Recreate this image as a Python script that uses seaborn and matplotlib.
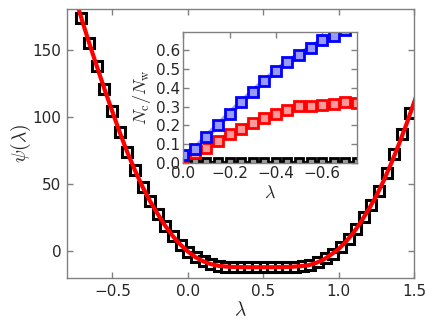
import matplotlib
matplotlib.use("Agg")
import matplotlib.pyplot as plt
import seaborn as sns

# ---- main panel data ----
lam = [-0.705, -0.654, -0.604, -0.553, -0.502, -0.452, -0.401, -0.351, -0.300, -0.250,
       -0.199, -0.149, -0.098, -0.047, 0.003, 0.054, 0.104, 0.155, 0.205, 0.256,
       0.306, 0.357, 0.408, 0.458, 0.509, 0.559, 0.610, 0.660, 0.711, 0.761,
       0.812, 0.863, 0.913, 0.964, 1.014, 1.065, 1.115, 1.166, 1.216, 1.267,
       1.318, 1.368, 1.419, 1.469]
psi = [173.3, 155.0, 138.0, 120.8, 104.4, 88.6, 73.6, 60.3, 47.8, 37.1,
       27.5, 18.7, 10.9, 4.6, -0.6, -4.7, -7.6, -9.7, -11.0, -11.5,
       -11.8, -11.9, -12.0, -12.0, -12.0, -12.0, -11.9, -11.8, -11.6, -11.1,
       -10.2, -8.3, -5.5, -1.8, 3.1, 9.3, 16.5, 25.2, 34.4, 44.9,
       58.0, 72.0, 87.0, 103.0]

lam_fit = [-0.75, -0.70, -0.65, -0.60, -0.55, -0.50, -0.45, -0.40, -0.35, -0.30,
           -0.25, -0.20, -0.15, -0.10, -0.05, 0.00, 0.05, 0.10, 0.15, 0.20,
           0.25, 0.30, 0.35, 0.40, 0.45, 0.50, 0.55, 0.60, 0.65, 0.70,
           0.75, 0.80, 0.85, 0.90, 0.95, 1.00, 1.05, 1.10, 1.15, 1.20,
           1.25, 1.30, 1.35, 1.40, 1.45, 1.50, 1.55]
psi_fit = [190.0, 171.5, 153.6, 136.6, 119.8, 103.8, 88.0, 73.3, 60.0, 47.8,
           37.1, 27.7, 18.9, 11.2, 4.9, -0.3, -4.5, -7.5, -9.6, -10.9,
           -11.5, -11.8, -11.9, -12.0, -12.0, -12.0, -12.0, -11.9, -11.8, -11.6,
           -11.2, -10.5, -8.8, -6.3, -2.5, 1.6, 7.3, 14.1, 22.3, 31.4,
           41.4, 53.0, 66.0, 80.0, 95.0, 111.0, 127.0]

# ---- inset data ----
lam_in = [0.00, -0.05, -0.10, -0.15, -0.20, -0.25, -0.30, -0.35,
          -0.40, -0.45, -0.50, -0.55, -0.60, -0.65, -0.70, -0.75]
frac_blue = [0.040, 0.072, 0.140, 0.200, 0.263, 0.323, 0.380, 0.437,
             0.490, 0.540, 0.577, 0.615, 0.654, 0.677, 0.710, 0.735]
frac_red = [0.030, 0.050, 0.080, 0.117, 0.152, 0.183, 0.215, 0.242,
            0.260, 0.281, 0.301, 0.301, 0.308, 0.314, 0.326, 0.319]
frac_black = [0.004, 0.004, 0.004, 0.004, 0.004, 0.004, 0.004, 0.004,
              0.004, 0.004, 0.004, 0.004, 0.004, 0.004, 0.004, 0.004]

sns.set_style("ticks")
plt.rcParams["font.family"] = ["DejaVu Sans"]
plt.rcParams["mathtext.fontset"] = "cm"
plt.rcParams["xtick.direction"] = "in"
plt.rcParams["ytick.direction"] = "in"

SPINE = "#808080"

fig = plt.figure(figsize=(4.36, 3.27), dpi=100)
ax = fig.add_axes([0.154, 0.150, 0.796, 0.821])

sns.lineplot(x=lam, y=psi, ax=ax, color="black", lw=0, marker="s", ms=7.5,
             mfc="white", mec="black", mew=2.2, estimator=None, sort=False)
sns.lineplot(x=lam_fit, y=psi_fit, ax=ax, color="red", lw=3, estimator=None)

ax.set_xlim(-0.8, 1.5)
ax.set_ylim(-20, 180)
ax.set_xticks([-0.5, 0.0, 0.5, 1.0, 1.5])
ax.set_yticks([0, 50, 100, 150])
ax.set_xlabel(r"$\lambda$", fontsize=14, labelpad=1)
ax.set_ylabel(r"$\psi(\lambda)$", fontsize=14, labelpad=0)

def style(a, fs):
    for s in a.spines.values():
        s.set_color(SPINE)
        s.set_linewidth(1.0)
    a.tick_params(which="both", direction="in", top=True, right=True,
                  color=SPINE, length=4, width=1, labelsize=fs, pad=4)

style(ax, 11)

# ---- inset ----
axi = fig.add_axes([0.420, 0.502, 0.399, 0.401])
sns.lineplot(x=lam_in, y=frac_black, ax=axi, color="black", lw=2, marker="s", ms=6,
             mfc="#999999", mec="black", mew=2, estimator=None, sort=False)
sns.lineplot(x=lam_in, y=frac_red, ax=axi, color=(1.0, 0.6, 0.6), lw=4, marker="s", ms=7,
             mfc=(1.0, 0.6, 0.6), mec="red", mew=2, estimator=None, sort=False)
sns.lineplot(x=lam_in, y=frac_blue, ax=axi, color=(0.6, 0.6, 1.0), lw=4, marker="s", ms=7,
             mfc=(0.6, 0.6, 1.0), mec="blue", mew=2, estimator=None, sort=False)

axi.set_xlim(0.0, -0.75)
axi.set_ylim(0.0, 0.7)
axi.set_xticks([0.0, -0.2, -0.4, -0.6])
axi.set_yticks([0.0, 0.1, 0.2, 0.3, 0.4, 0.5, 0.6])
axi.set_xlabel(r"$\lambda$", fontsize=13, labelpad=2)
axi.set_ylabel(r"$N_{\rm c}/N_{\rm w}$", fontsize=13, labelpad=2)
style(axi, 11)
axi.tick_params(pad=2)

fig.savefig("out.png", dpi=100)
